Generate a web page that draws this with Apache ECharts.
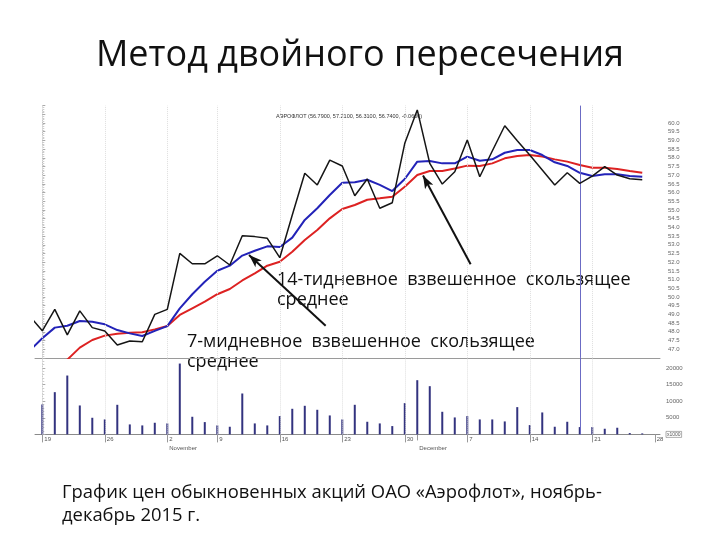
<!DOCTYPE html>
<html><head><meta charset="utf-8">
<script src="https://cdn.jsdelivr.net/npm/echarts@6/dist/echarts.min.js"></script>
<style>html,body{margin:0;padding:0;background:#fff}#c{width:720px;height:540px}</style>
</head><body><div id="c"></div>
<script>
// Trading days (first one, 16.10, is only partly visible at the left edge)
const dates = ['16.10','19.10','20.10','21.10','22.10','23.10','26.10','27.10','28.10','29.10','30.10',
  '02.11','03.11','05.11','06.11','09.11','10.11','11.11','12.11','13.11','16.11','17.11','18.11','19.11','20.11',
  '23.11','24.11','25.11','26.11','27.11','30.11','01.12','02.12','03.12','04.12','07.12','08.12','09.12','10.12','11.12',
  '14.12','15.12','16.12','17.12','18.12','21.12','22.12','23.12','24.12','25.12'];
const closePrice = [48.9,48.06,49.29,47.82,49.20,48.24,48.05,47.24,47.47,47.43,49.0,49.29,52.51,51.91,51.91,52.37,51.84,
  53.52,53.47,53.37,52.26,54.71,57.11,56.44,57.87,57.53,55.82,56.78,55.10,55.42,58.83,60.75,57.68,56.49,57.20,
  59.02,56.91,58.39,59.84,58.98,58.16,57.30,56.44,57.14,56.53,56.95,57.49,57.01,56.80,56.74];
const wma7 = [46.93,47.63,48.24,48.35,48.62,48.58,48.43,48.10,47.91,47.76,48.05,48.33,49.35,50.16,50.88,51.51,51.80,
  52.38,52.66,52.91,52.87,53.41,54.43,55.10,55.86,56.57,56.59,56.74,56.44,56.09,56.78,57.78,57.82,57.68,57.68,
  58.07,57.83,57.91,58.29,58.45,58.45,58.16,57.74,57.53,57.14,56.95,57.05,57.05,56.95,56.91];
const wma14 = [44.6,45.2,45.8,46.4,47.09,47.53,47.78,47.89,47.95,47.97,48.14,48.33,48.97,49.35,49.73,50.16,50.46,
  50.95,51.36,51.80,52.03,52.60,53.28,53.85,54.52,55.06,55.29,55.59,55.67,55.76,56.34,57.01,57.24,57.24,57.38,
  57.55,57.53,57.68,57.97,58.10,58.16,58.07,57.91,57.78,57.59,57.43,57.43,57.36,57.24,57.14];
const volume = [null,9000,12700,17700,8700,5000,4500,8900,3000,2700,3500,3300,21300,5300,3700,2700,2300,12300,3300,2700,
  5500,7700,8600,7400,5700,4500,8900,3800,3300,2500,9400,16300,14500,6800,5100,5500,4500,4500,3900,8200,2800,6600,
  2300,3800,2200,2200,1700,2000,400,300];
const weekTickIdx = [0,5,10,14,19,24,29,34,39,44,49];
const weekTickLabels = ['19','26','2','9','16','23','30','7','14','21','28'];
const monthTickIdx = [10,30];
const monthLabels = ['November','December'];
const cursorIdx = 43;
const chartTitle = 'Метод двойного пересечения';
const innerTitle = 'АЭРОФЛОТ (56.7900, 57.2100, 56.3100, 56.7400, -0.0600)';
const note14 = ['14-тидневное  взвешенное  скользящее','среднее'];
const note7 = ['7-мидневное  взвешенное  скользящее','среднее'];
const caption = ['График цен обыкновенных акций ОАО «Аэрофлот», ноябрь-','декабрь 2015 г.'];
// arrows: [tail idx, tail price, head idx, head price]
const arrow7 = [22.67, 48.35, 16.54, 52.41];
const arrow14 = [34.27, 51.88, 30.46, 56.98];

const xIdx = dates.map((d,i)=>i-1);
const pair = arr => xIdx.map((x,i)=>[x, arr[i]]);
const XMIN = -0.584, XMAX = 49.42;
const smallFont = 'Liberation Sans';

const gridLineData = weekTickIdx.filter(v=>v<45).map(v=>({xAxis:v, lineStyle:{color:'#dedede',type:'dotted',width:1}}));
const cursorLine = {xAxis: cursorIdx, lineStyle:{color:'#6b6bc4',type:'solid',width:1}};
const arrowItem = a => [
  {coord:[a[0],a[1]], symbol:'none', lineStyle:{color:'#111',width:2,type:'solid'}},
  {coord:[a[2],a[3]], symbol:'arrow', symbolSize:[7,13]}
];

const chart = echarts.init(document.getElementById('c'));
chart.setOption({
  animation:false,
  backgroundColor:'#fff',
  grid:[
    {left:35, right:60, top:105.6, height:252.3},
    {left:35, right:60, top:357.9, height:76.5}
  ],
  xAxis:[
    {gridIndex:0,type:'value',min:XMIN,max:XMAX,axisLabel:{show:false},axisTick:{show:false},splitLine:{show:false},
     axisLine:{onZero:false,lineStyle:{color:'#9a9a9a',width:1}}},
    {gridIndex:1,type:'value',min:XMIN,max:XMAX,splitLine:{show:false},
     axisLine:{onZero:false,lineStyle:{color:'#8a8a8a',width:1}},
     axisTick:{customValues:weekTickIdx,length:8,lineStyle:{color:'#999'}},
     axisLabel:{customValues:weekTickIdx,formatter:v=>weekTickLabels[weekTickIdx.indexOf(v)],fontSize:6,color:'#555',
       fontFamily:smallFont,align:'left',margin:2,padding:[0,0,0,2]}},
    {gridIndex:1,type:'value',min:XMIN,max:XMAX,position:'bottom',offset:10,splitLine:{show:false},
     axisLine:{show:false},
     axisTick:{customValues:monthTickIdx,length:6,lineStyle:{color:'#999'}},
     axisLabel:{customValues:monthTickIdx,formatter:v=>monthLabels[monthTickIdx.indexOf(v)],fontSize:6,color:'#555',
       fontFamily:smallFont,align:'left',margin:1,padding:[0,0,0,2]}}
  ],
  yAxis:[
    {gridIndex:0,type:'value',position:'right',min:46.5,max:61,interval:0.5,splitLine:{show:false},
     axisLine:{show:true,lineStyle:{color:'#bbb',type:[1,1.5]}},
     axisTick:{show:true,length:3,lineStyle:{color:'#aaa'}},
     minorTick:{show:true,splitNumber:5,length:2,lineStyle:{color:'#ccc'}},
     axisLabel:{formatter:v=>(v>=47&&v<=60)?v.toFixed(1):'',fontSize:6,color:'#666',fontFamily:smallFont,margin:8}},
    {gridIndex:1,type:'value',position:'right',min:0,max:23000,interval:5000,splitLine:{show:false},
     axisLine:{show:true,lineStyle:{color:'#bbb',type:[1,1.5]}},
     axisTick:{show:true,length:3,lineStyle:{color:'#aaa'}},
     minorTick:{show:true,splitNumber:5,length:2,lineStyle:{color:'#ccc'}},
     axisLabel:{formatter:v=>v===0?'{b|x1000}':(v<=20000?String(v):''),fontSize:6,color:'#666',fontFamily:smallFont,margin:6,
       rich:{b:{fontSize:5,color:'#555',borderColor:'#777',borderWidth:0.6,padding:[1,1,0,1]}}}}
  ],
  series:[
    {type:'line',xAxisIndex:0,yAxisIndex:0,data:pair(wma14),symbol:'none',lineStyle:{color:'#dd2222',width:2},z:3,
     markLine:{silent:true,symbol:'none',label:{show:false},data:gridLineData.concat([cursorLine])}},
    {type:'line',xAxisIndex:0,yAxisIndex:0,data:pair(wma7),symbol:'none',lineStyle:{color:'#2323b8',width:2},z:4},
    {type:'line',xAxisIndex:0,yAxisIndex:0,data:pair(closePrice),symbol:'none',lineStyle:{color:'#151515',width:1.5},z:5,
     markLine:{silent:true,label:{show:false},data:[arrowItem(arrow7),arrowItem(arrow14)]}},
    {type:'bar',xAxisIndex:1,yAxisIndex:1,data:pair(volume),barWidth:2,itemStyle:{color:'#33337f'},
     markLine:{silent:true,symbol:'none',label:{show:false},data:gridLineData.concat([cursorLine])}}
  ],
  graphic:[
    {type:'text',left:'center',top:38,style:{text:chartTitle,fontFamily:'Open Sans',fontSize:36,fill:'#111'}},
    {type:'text',left:276,top:113,style:{text:innerTitle,fontFamily:smallFont,fontSize:5.5,fill:'#333'}},
    {type:'text',left:277,top:270,style:{text:note14.join('\n'),fontFamily:'Open Sans',fontSize:18,lineHeight:20,fill:'#111'}},
    {type:'text',left:187,top:332,style:{text:note7.join('\n'),fontFamily:'Open Sans',fontSize:18,lineHeight:20,fill:'#111'}},
    {type:'text',left:62,top:481,style:{text:caption.join('\n'),fontFamily:'Open Sans',fontSize:18.4,lineHeight:23,fill:'#111'}}
  ]
});
</script></body></html>
